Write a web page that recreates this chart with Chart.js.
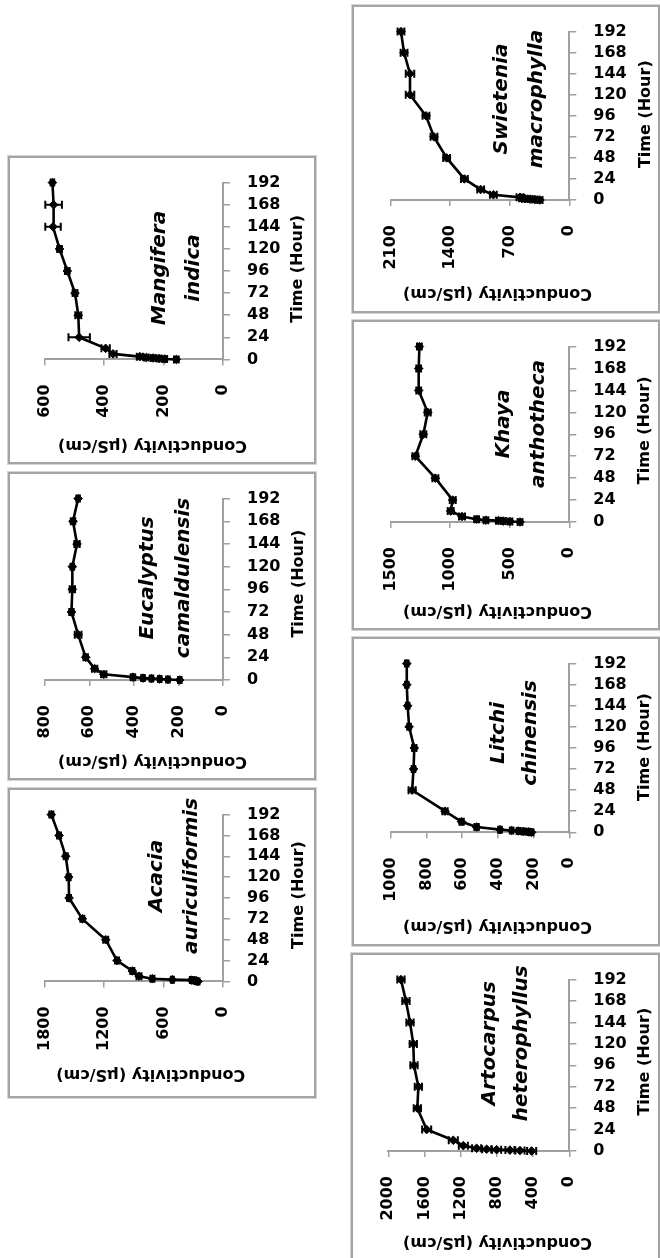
<!DOCTYPE html>
<html><head><meta charset="utf-8">
<script src="https://cdn.jsdelivr.net/npm/chart.js@4.4.0/dist/chart.umd.min.js"></script>
<style>
html,body{margin:0;padding:0;background:#fff;}
body{width:660px;height:1258px;position:relative;overflow:hidden;}
.frame{position:absolute;box-sizing:border-box;border:2px solid #a4a4a4;box-shadow:0 0 0 1px #d4d4d4;}
canvas{position:absolute;}
</style></head><body>
<script>
// ---------- DATA ----------
const TIME_HOURS = [0, 0.5, 1, 1.5, 2, 3, 6, 12, 24, 48, 72, 96, 120, 144, 168, 192];
const TIME_TICK_STEP = 24;
const TIME_MAX = 192;

const SPECIES_LINE1 = ["Mangifera", "Eucalyptus", "Acacia", "Swietenia", "Khaya", "Litchi", "Artocarpus"];
const SPECIES_LINE2 = ["indica", "camaldulensis", "auriculiformis", "macrophylla", "anthotheca", "chinensis", "heterophyllus"];

const COND_AXIS_MAX  = [600, 800, 1800, 2100, 1500, 1000, 2000];
const COND_AXIS_STEP = [200, 200, 600, 700, 500, 200, 400];

const MANGIFERA      = [157, 196, 215, 235, 258, 280, 370, 395, 484, 487, 498, 524, 550, 572, 570, 574];
const MANGIFERA_ERR  = [8, 8, 8, 8, 8, 10, 12, 14, 36, 10, 8, 8, 8, 26, 28, 6];
const EUCALYPTUS     = [194, 247, 284, 321, 359, 404, 535, 576, 616, 650, 680, 676, 676, 655, 673, 650];
const EUCALYPTUS_ERR = [8, 8, 8, 8, 8, 10, 12, 12, 10, 15, 10, 12, 8, 12, 10, 8];
const ACACIA         = [252, 269, 286, 320, 511, 713, 848, 915, 1070, 1184, 1420, 1554, 1558, 1588, 1655, 1733];
const ACACIA_ERR     = [15, 15, 15, 15, 15, 20, 25, 20, 20, 25, 20, 20, 20, 20, 20, 20];
const SWIETENIA      = [345, 404, 462, 521, 560, 580, 893, 1042, 1234, 1442, 1591, 1685, 1873, 1873, 1943, 1979];
const SWIETENIA_ERR  = [30, 30, 30, 30, 30, 40, 40, 40, 40, 40, 40, 40, 50, 50, 40, 40];
const KHAYA          = [414, 498, 554, 596, 700, 778, 901, 996, 979, 1125, 1293, 1226, 1189, 1265, 1265, 1259];
const KHAYA_ERR      = [20, 20, 20, 20, 20, 20, 25, 25, 25, 25, 25, 25, 25, 20, 20, 20];
const LITCHI         = [211, 229, 257, 285, 323, 388, 519, 603, 696, 880, 872, 868, 897, 905, 910, 910];
const LITCHI_ERR     = [10, 10, 10, 10, 10, 10, 12, 12, 15, 20, 10, 12, 10, 10, 10, 10];
const ARTOCARPUS     = [416, 545, 656, 803, 913, 1024, 1171, 1282, 1576, 1679, 1668, 1716, 1724, 1760, 1805, 1860];
const ARTOCARPUS_ERR = [50, 50, 50, 50, 50, 50, 50, 50, 50, 40, 40, 40, 40, 40, 40, 40];

const SERIES = [MANGIFERA, EUCALYPTUS, ACACIA, SWIETENIA, KHAYA, LITCHI, ARTOCARPUS];
const ERRORS = [MANGIFERA_ERR, EUCALYPTUS_ERR, ACACIA_ERR, SWIETENIA_ERR, KHAYA_ERR, LITCHI_ERR, ARTOCARPUS_ERR];

// ---------- LAYOUT (positions only) ----------
const LAYOUT = [
  {left:8,   top:156, w:308, h:308, l:36.7, r:215,   t:16.7, b:203.4, cx:144.5, cy:288.8, tx:290.3, ty:112.8, s1:152,   s2:185.3, sy:112},
  {left:8,   top:472, w:308, h:308, l:36.7, r:215,   t:18.4, b:208,   cx:144.5, cy:289.2, tx:291.2, ty:111.7, s1:139.5, s2:175.3, sy:106},
  {left:8,   top:788, w:308, h:310, l:36.7, r:215,   t:16.7, b:193.4, cx:142.8, cy:286.2, tx:291,   ty:107,   s1:148.7, s2:183.7, sy:88},
  {left:352, top:5,   w:308, h:308, l:38.7, r:217.3, t:18.3, b:195,   cx:145.5, cy:288.3, tx:293.8, ty:109.2, s1:149.7, s2:184.7, sy:94},
  {left:352, top:320, w:308, h:310, l:38.7, r:217.3, t:18.7, b:202,   cx:145.5, cy:291.3, tx:293,   ty:110.3, s1:152.2, s2:187.2, sy:104},
  {left:352, top:637, w:308, h:309, l:38.7, r:217.3, t:18.7, b:195.3, cx:145.5, cy:289.3, tx:293,   ty:110,   s1:146.3, s2:178.8, sy:96},
  {left:351, top:953, w:309, h:310, l:37.3, r:218.3, t:17,   b:198,   cx:146.5, cy:288.7, tx:294,   ty:108.7, s1:139,   s2:171,   sy:90.3}
];

const AXIS_GRAY = '#a0a0a0';
const TICK_FONT = {family: 'DejaVu Sans', size: 16, weight: 'bold'};

function makeDecor(i) {
  const L = LAYOUT[i];
  const errs = ERRORS[i];
  return {
    id: 'decor' + i,
    beforeDatasetsDraw(chart) {
      const ctx = chart.ctx, xs = chart.scales.x, ys = chart.scales.y;
      const data = chart.data.datasets[0].data;
      ctx.save();
      ctx.strokeStyle = '#000';
      ctx.lineWidth = 2;
      data.forEach((p, k) => {
        const py = ys.getPixelForValue(p.y);
        const x1 = xs.getPixelForValue(p.x - errs[k]);
        const x2 = xs.getPixelForValue(p.x + errs[k]);
        ctx.beginPath();
        ctx.moveTo(x1, py); ctx.lineTo(x2, py);
        ctx.moveTo(x1, py - 4); ctx.lineTo(x1, py + 4);
        ctx.moveTo(x2, py - 4); ctx.lineTo(x2, py + 4);
        ctx.stroke();
      });
      ctx.restore();
    },
    afterDraw(chart) {
      const ctx = chart.ctx;
      ctx.save();
      ctx.fillStyle = '#000';
      ctx.textAlign = 'center';
      ctx.textBaseline = 'middle';
      ctx.font = 'bold 16px "DejaVu Sans"';
      ctx.save(); ctx.translate(L.cx, L.cy); ctx.rotate(Math.PI);
      ctx.fillText('Conductivity (µS/cm)', 0, 0); ctx.restore();
      ctx.save(); ctx.translate(L.tx, L.ty); ctx.rotate(-Math.PI / 2);
      ctx.fillText('Time (Hour)', 0, 0); ctx.restore();
      ctx.font = 'italic bold 20px "DejaVu Sans"';
      ctx.save(); ctx.translate(L.s1, L.sy); ctx.rotate(-Math.PI / 2);
      ctx.fillText(SPECIES_LINE1[i], 0, 0); ctx.restore();
      ctx.save(); ctx.translate(L.s2, L.sy); ctx.rotate(-Math.PI / 2);
      ctx.fillText(SPECIES_LINE2[i], 0, 0); ctx.restore();
      ctx.restore();
    }
  };
}

LAYOUT.forEach((L, i) => {
  const frame = document.createElement('div');
  frame.className = 'frame';
  Object.assign(frame.style, {left: L.left + 'px', top: L.top + 'px', width: L.w + 'px', height: L.h + 'px'});
  document.body.appendChild(frame);

  const cv = document.createElement('canvas');
  cv.width = L.w; cv.height = L.h;
  Object.assign(cv.style, {left: L.left + 'px', top: L.top + 'px', width: L.w + 'px', height: L.h + 'px'});
  document.body.appendChild(cv);

  const points = TIME_HOURS.map((t, k) => ({x: SERIES[i][k], y: t}));

  new Chart(cv.getContext('2d'), {
    type: 'scatter',
    data: {
      datasets: [{
        data: points,
        showLine: true,
        borderColor: '#000',
        borderWidth: 2.6,
        backgroundColor: '#000',
        pointStyle: 'rectRot',
        pointRadius: 4.3,
        pointBorderWidth: 1,
        pointBorderColor: '#000',
        clip: false,
        tension: 0
      }]
    },
    options: {
      responsive: false,
      animation: false,
      devicePixelRatio: 1,
      events: [],
      layout: {padding: {left: L.l, top: L.t, right: 0, bottom: 0}},
      plugins: {legend: {display: false}, tooltip: {enabled: false}},
      scales: {
        x: {
          type: 'linear', position: 'bottom', reverse: true,
          min: 0, max: COND_AXIS_MAX[i],
          ticks: {stepSize: COND_AXIS_STEP[i], minRotation: 90, maxRotation: 90, autoSkip: false,
                  color: '#000', font: TICK_FONT, padding: 19, callback: v => String(v)},
          grid: {drawOnChartArea: false, drawTicks: true, tickLength: 6, color: AXIS_GRAY, lineWidth: 1.5},
          border: {display: true, color: AXIS_GRAY, width: 2},
          afterFit: s => { s.height = L.h - L.b; }
        },
        y: {
          type: 'linear', position: 'right',
          min: 0, max: TIME_MAX,
          ticks: {stepSize: TIME_TICK_STEP, autoSkip: false, color: '#000', font: TICK_FONT, padding: 17,
                  callback: v => String(v)},
          grid: {drawOnChartArea: false, drawTicks: true, tickLength: 7, color: AXIS_GRAY, lineWidth: 1.5},
          border: {display: true, color: AXIS_GRAY, width: 2},
          afterFit: s => { s.width = L.w - L.r; }
        }
      }
    },
    plugins: [makeDecor(i)]
  });
});
</script>
</body></html>
